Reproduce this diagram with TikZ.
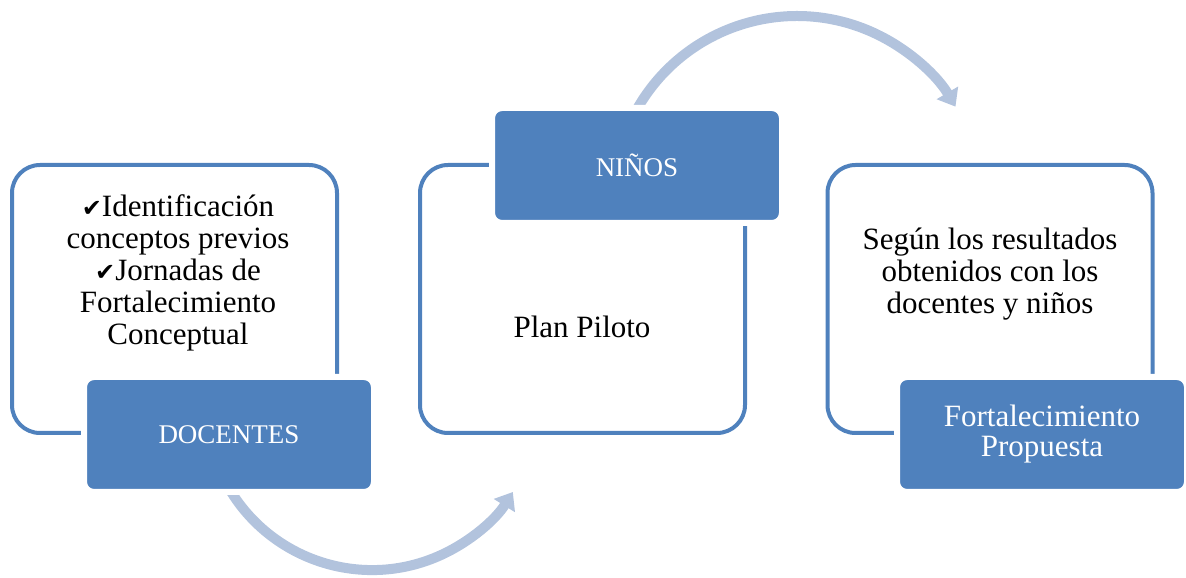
\documentclass[tikz,border=0pt]{standalone}
\usepackage{fontspec}
\setmainfont{Liberation Serif}
\newfontfamily\simbolos{DejaVu Sans}
\usetikzlibrary{arrows.meta}
\definecolor{azul}{RGB}{79,129,189}
\definecolor{azulclaro}{RGB}{178,195,221}
\newcommand{\marca}{{\simbolos\fontsize{24}{32}\selectfont ✔}}

\begin{document}
\begin{tikzpicture}[x=1pt,y=1pt,
  marco/.style={draw=azul, line width=4pt, rounded corners=28pt,
    minimum width=325pt, minimum height=268pt},
  etiqueta/.style={fill=azul, draw=white, line width=6pt, rounded corners=10pt,
    minimum width=290pt, minimum height=115pt, text=white, align=center,
    font=\fontsize{31}{30}\selectfont},
  mayusculas/.style={font=\fontsize{27}{30}\selectfont},
  texto/.style={align=center, font=\fontsize{31}{32}\selectfont},
  flecha/.style={azulclaro, line width=10pt, -{Triangle[length=16pt, width=24pt]}}]
  \useasboundingbox (0,0) rectangle (1186,578);
  % Large outlined frames
  \node[marco] (marcodocentes) at (174.5,279) {};
  \node[marco] (marconinos) at (582.5,279) {};
  \node[marco] (marcopropuesta) at (990,279) {};
  % Curved arrows (drawn first, the labels cover their start)
  \coordinate (iniciobajo) at (221.6,103.8);
  \coordinate (inicioalto) at (633,461.5);
  \draw[flecha] (iniciobajo) arc[start angle=205, end angle=328, radius=166];
  \draw[flecha] (inicioalto) arc[start angle=153, end angle=30.5, radius=184];
  % Filled labels
  \node[etiqueta, mayusculas] (docentes) at (229,143.5) {DOCENTES};
  \node[etiqueta, mayusculas] (ninos) at (637,412.5) {NIÑOS};
  \node[etiqueta] (propuesta) at (1042,143.5) {Fortalecimiento\\Propuesta};
  % Texts inside the frames
  \node[texto] (listadocentes) at (178,305)
    {\marca Identificación\\conceptos previos\\\marca Jornadas de\\Fortalecimiento\\Conceptual};
  \node[texto, anchor=base] (planpiloto) at (582,240) {Plan Piloto};
  \node[texto] (resultados) at (990,304)
    {Según los resultados\\obtenidos con los\\docentes y niños};
\end{tikzpicture}
\end{document}
